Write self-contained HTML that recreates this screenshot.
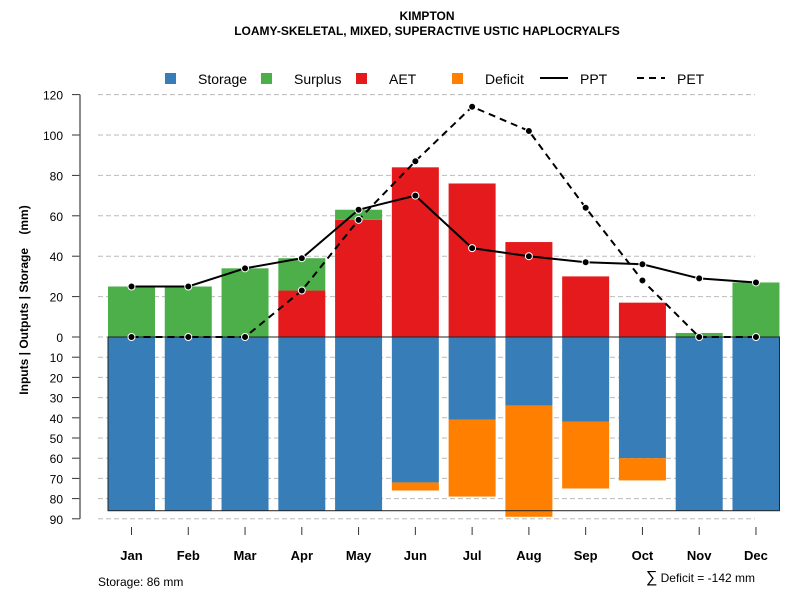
<!DOCTYPE html>
<html><head><meta charset="utf-8"><style>
body{margin:0;background:#fff;font-family:"Liberation Sans",sans-serif}
svg text{font-family:"Liberation Sans",sans-serif}
</style></head><body>
<svg id="c" width="800" height="600">
<text x="427" y="20" text-anchor="middle" font-size="12" font-weight="bold">KIMPTON</text>
<text x="427" y="35" text-anchor="middle" font-size="12" font-weight="bold">LOAMY-SKELETAL, MIXED, SUPERACTIVE USTIC HAPLOCRYALFS</text>
<text transform="translate(28,300) rotate(-90)" text-anchor="middle" font-size="12" font-weight="bold" style="white-space:pre">Inputs | Outputs | Storage    (mm)</text>
<text x="98" y="586" font-size="12">Storage: 86 mm</text>
<text x="755" y="582" text-anchor="end" font-size="12"><tspan font-size="16">∑</tspan> Deficit = -142 mm</text>
<g id="legend"></g>
<g id="grid"></g><g id="bars"></g><g id="lines"></g><g id="axes"></g>
</svg>
<script>
const months=["Jan","Feb","Mar","Apr","May","Jun","Jul","Aug","Sep","Oct","Nov","Dec"];
const aet=[0,0,0,23,58,84,76,47,30,17,0,0];
const surplus=[25,25,34,16,5,0,0,0,0,0,2,27];
const storage=[86,86,86,86,86,72,41,34,42,60,86,86];
const deficit=[0,0,0,0,0,4,38,55,33,11,0,0];
const ppt=[25,25,34,39,63,70,44,40,37,36,29,27];
const pet=[0,0,0,23,58,87,114,102,64,28,0,0];
const upTicks=[0,20,40,60,80,100,120];
const downTicks=[10,20,30,40,50,60,70,80,90];
const storageMax=86;
const NS="http://www.w3.org/2000/svg";
const y0=337,k=2.02;
const yU=v=>y0-v*k, yD=v=>y0+v*k;
const xC=i=>131.5+i*56.77, bw=47;
function mk(t,a,p){const e=document.createElementNS(NS,t);for(const n in a)e.setAttribute(n,a[n]);document.getElementById(p).appendChild(e);return e;}
upTicks.forEach(v=>{
 const l=mk("line",{x1:98,x2:755,y1:yU(v),y2:yU(v),stroke:"#bbb","stroke-dasharray":"5,3"},"grid");
 
 
 mk("line",{x1:72,x2:80,y1:yU(v),y2:yU(v),stroke:"#333"},"axes");
 const t=mk("text",{x:63,y:yU(v)+5,"text-anchor":"end","font-size":12},"axes");t.textContent=v;
 
 
});
downTicks.forEach(v=>{
 const l=mk("line",{x1:98,x2:755,y1:yD(v),y2:yD(v),stroke:"#bbb","stroke-dasharray":"5,3"},"grid");
 
 
 mk("line",{x1:72,x2:80,y1:yD(v),y2:yD(v),stroke:"#333"},"axes");
 const t=mk("text",{x:63,y:yD(v)+5,"text-anchor":"end","font-size":12},"axes");t.textContent=v;
 
 
});
mk("line",{x1:80,x2:80,y1:yU(120),y2:yD(90),stroke:"#666","stroke-width":1.5},"axes");
months.forEach((m,i)=>{
 const x=xC(i)-bw/2;
 const r=(y,h,c,n)=>{const e=mk("rect",{x:x,y:y,width:bw,height:Math.max(h,0),fill:c},"bars");
  
  };
 r(yD(0),storage[i]*k,"#377eb8","storage-bar-"+m.toLowerCase());
 r(yD(storage[i]),deficit[i]*k,"#ff7f00","deficit-bar-"+m.toLowerCase());
 r(yU(aet[i]),aet[i]*k,"#e41a1c","aet-bar-"+m.toLowerCase());
 r(yU(aet[i]+surplus[i]),surplus[i]*k,"#4daf4a","surplus-bar-"+m.toLowerCase());
 mk("line",{x1:xC(i),x2:xC(i),y1:527,y2:535,stroke:"#333"},"axes");
 const t=mk("text",{x:xC(i),y:560,"text-anchor":"middle","font-size":13,"font-weight":"bold"},"axes");t.textContent=m;
 
 
});
const box=mk("rect",{x:xC(0)-bw/2,y:y0,width:xC(11)-xC(0)+bw,height:storageMax*k,fill:"none",stroke:"#222"},"bars");


mk("line",{x1:98,x2:755,y1:yD(90),y2:yD(90),stroke:"#ccc","stroke-dasharray":"5,3"},"grid");
function series(arr,dash,name){
 const p=mk("polyline",{points:arr.map((v,i)=>xC(i)+","+yU(v)).join(" "),fill:"none",stroke:"#000","stroke-width":2,"stroke-dasharray":dash},"lines");
 
 
 arr.forEach((v,i)=>{const c=mk("circle",{cx:xC(i),cy:yU(v),r:3.5,fill:"#000",stroke:"#fff","stroke-width":1},"lines");
  
  });
}
series(pet,"7,5","pet");
series(ppt,"none","ppt");
const items=[["Storage","#377eb8",165,198],["Surplus","#4daf4a",261,294],["AET","#e41a1c",356,389],["Deficit","#ff7f00",452,485]];
items.forEach(it=>{
 const r=mk("rect",{x:it[2],y:73,width:11,height:11,fill:it[1]},"legend");
 
 
 const t=mk("text",{x:it[3],y:84,"font-size":14},"legend");t.textContent=it[0];
 
 
});
mk("line",{x1:540,x2:568,y1:78,y2:78,stroke:"#000","stroke-width":2},"legend");
let t1=mk("text",{x:580,y:84,"font-size":14},"legend");t1.textContent="PPT";


mk("line",{x1:637,x2:665,y1:78,y2:78,stroke:"#000","stroke-width":2,"stroke-dasharray":"7,5"},"legend");
let t2=mk("text",{x:677,y:84,"font-size":14},"legend");t2.textContent="PET";


</script>
</body></html>
